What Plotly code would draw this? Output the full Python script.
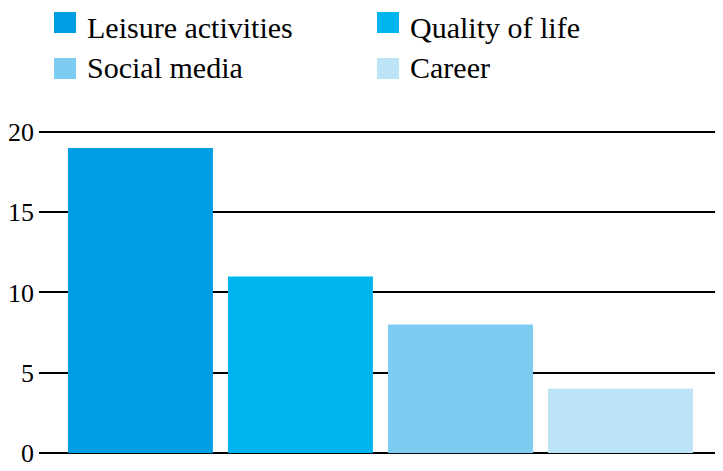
import plotly.graph_objects as go

categories = ["Leisure activities", "Quality of life", "Social media", "Career"]
values = [19, 11, 8, 4]
colors = ["#009FE3", "#00B5EE", "#7ECBF2", "#BDE3F7"]
tick_vals = [0, 5, 10, 15, 20]

W, H = 723, 471
ML, MR, MT, MB = 31, 11, 119, 26
PW, PH = W - ML - MR, H - MT - MB
FONT = "Liberation Serif, Times New Roman, serif"


def px(x):
    return (x - ML) / PW


def py(y):
    return (H - MB - y) / PH


fig = go.Figure()
for i, (c, v, col) in enumerate(zip(categories, values, colors)):
    fig.add_trace(go.Bar(x=[i], y=[v], name=c, showlegend=False,
                         marker=dict(color=col, line=dict(width=0)), width=0.906))

# manual legend (2 columns x 2 rows): (x, square top, text top) in figure pixels
legend_pos = [(46, 4, 0.5), (369, 4, 0.5), (46, 50, 41), (369, 50, 41)]
shapes, annotations = [], []
for (c, col), (lx, sy, ty) in zip(zip(categories, colors), legend_pos):
    shapes.append(dict(type="rect", xref="paper", yref="paper",
                       x0=px(lx), x1=px(lx + 22), y0=py(sy), y1=py(sy + 21),
                       fillcolor=col, line=dict(width=0), layer="above"))
    annotations.append(dict(xref="paper", yref="paper", x=px(lx + 31), y=py(ty),
                            xanchor="left", yanchor="top", text=c, showarrow=False,
                            font=dict(family=FONT, size=30, color="black")))

fig.update_layout(
    width=W, height=H,
    margin=dict(l=ML, r=MR, t=MT, b=MB, autoexpand=False),
    paper_bgcolor="white", plot_bgcolor="white",
    barmode="overlay",
    font=dict(family=FONT, color="black", size=26),
    showlegend=False,
    shapes=shapes, annotations=annotations,
    xaxis=dict(range=[-0.634, 3.622], showticklabels=False, showgrid=False,
               zeroline=False, showline=False, ticks="", automargin=False),
    yaxis=dict(range=[0, 20.31], tickvals=tick_vals, showgrid=True, gridcolor="black",
               gridwidth=2, zeroline=True, zerolinecolor="black", zerolinewidth=2,
               ticks="", ticklabelstandoff=4, tickfont=dict(size=26), automargin=False),
)
fig.write_html("out.html")
